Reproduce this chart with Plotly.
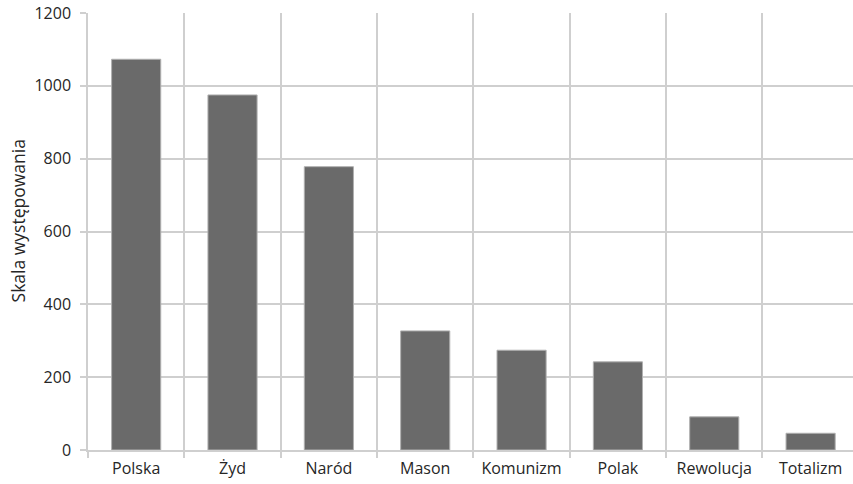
import plotly.graph_objects as go

categories = ["Polska", "Żyd", "Naród", "Mason", "Komunizm", "Polak", "Rewolucja", "Totalizm"]
values = [1073, 975, 778, 327, 274, 242, 91, 46]
y_ticks = [0, 200, 400, 600, 800, 1000, 1200]

grid = "#cfcfcf"
family = "Open Sans, Liberation Sans, sans-serif"
tick_font = dict(family=family, size=16, color="#262626")
title_font = dict(family=family, size=17.5, color="#262626")

fig = go.Figure(
    go.Bar(
        x=categories,
        y=values,
        width=0.51,
        marker=dict(color="#6a6a6a", line=dict(color="#b0b0b0", width=1)),
    )
)

fig.update_layout(
    width=853,
    height=484,
    margin=dict(l=88, r=0, t=13, b=34),
    paper_bgcolor="white",
    plot_bgcolor="white",
    font=tick_font,
    showlegend=False,
    bargap=0.49,
)

fig.update_xaxes(
    range=[-0.5, 7.44],
    tickson="boundaries",
    showgrid=True,
    gridcolor=grid,
    gridwidth=1.5,
    ticks="outside",
    ticklen=6,
    tickcolor=grid,
    tickwidth=1.5,
    showline=True,
    linecolor=grid,
    linewidth=1.5,
    ticklabelstandoff=3,
    tickfont=tick_font,
)

fig.update_yaxes(
    range=[0, 1200],
    tickvals=y_ticks,
    showgrid=True,
    gridcolor=grid,
    gridwidth=1.5,
    ticks="outside",
    ticklen=6,
    tickcolor=grid,
    tickwidth=1.5,
    showline=True,
    linecolor=grid,
    linewidth=1.5,
    zeroline=False,
    ticklabelstandoff=6,
    tickfont=tick_font,
)

# Vertical axis title, placed as a rotated annotation left of the tick labels
fig.add_annotation(
    text="Skala występowania",
    xref="paper",
    yref="paper",
    x=-0.0915,
    y=0.523,
    xanchor="center",
    yanchor="middle",
    textangle=-90,
    showarrow=False,
    font=title_font,
)

fig.write_html("out.html")
